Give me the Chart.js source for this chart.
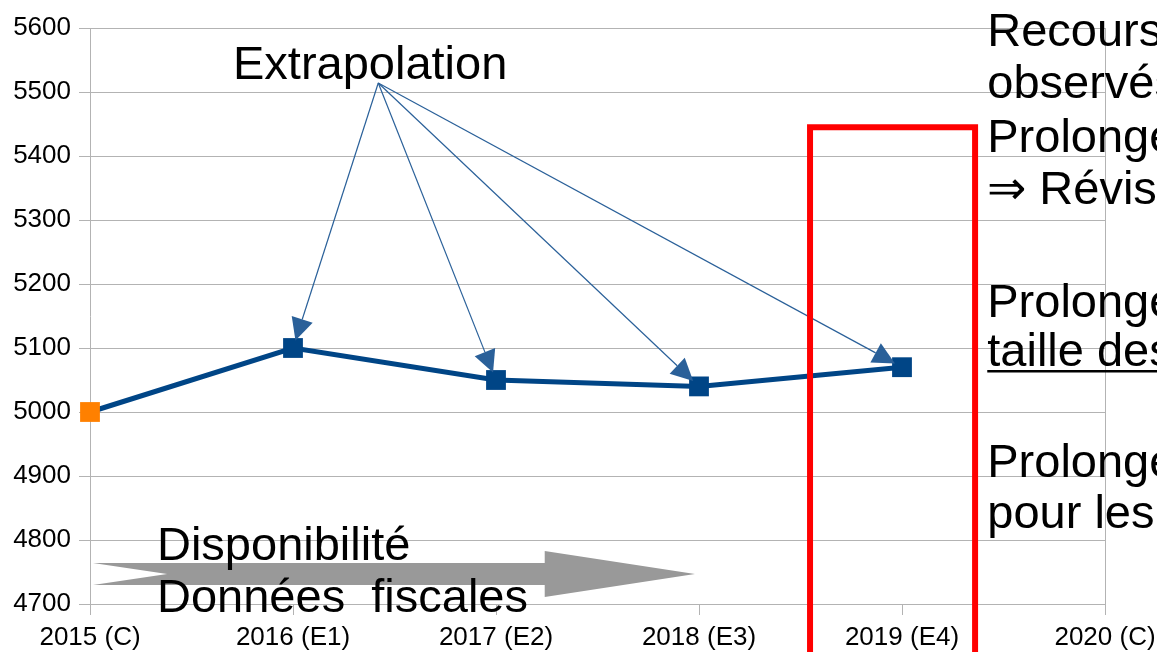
<!DOCTYPE html>
<html lang="fr">
<head>
  <meta charset="UTF-8">
  <title>Extrapolation</title>
  <script src="https://cdn.jsdelivr.net/npm/chart.js"></script>
  <style>
    body { margin: 0; background: #fff; }
    #wrap { width: 1157px; height: 652px; position: relative; }
  </style>
</head>
<body>
  <div id="wrap"><canvas id="chart"></canvas></div>

  <script>
    // Data
    const years = ['2015 (C)', '2016 (E1)', '2017 (E2)', '2018 (E3)', '2019 (E4)', '2020 (C)'];
    const values = [5000, 5100, 5050, 5040, 5070, null];
    const pointColors = ['#ff8000', '#004586', '#004586', '#004586', '#004586', '#004586'];
    const yTicks = { min: 4700, max: 5600, step: 100 };

    // Annotation text
    const extrapLabel = 'Extrapolation';
    const extrapTargets = [1, 2, 3, 4];
    const fiscalLines = ['Disponibilité', 'Données  fiscales'];
    const sideLines = [
      { text: 'Recours aux taux', under: false },
      { text: 'observés', under: false },
      { text: 'Prolongement', under: false },
      { text: '⇒ Révisions', under: false },
      { text: 'Prolongement de la', under: false },
      { text: 'taille des ménages', under: true },
      { text: 'Prolongement', under: false },
      { text: 'pour les autres', under: false }
    ];

    const FONT = "'Liberation Sans', Arial, sans-serif";
    const GRID = '#b3b3b3';

    // Draws the annotations (arrows, box, texts) anchored on the chart scales
    const annotations = {
      id: 'annotations',
      afterDatasetsDraw(chart) {
        const ctx = chart.ctx;
        const x = chart.scales.x, y = chart.scales.y;
        const px = v => x.getPixelForValue(v);
        const py = v => y.getPixelForValue(v);
        ctx.save();

        // gray arrow "Disponibilité données fiscales"
        const ax0 = px(0.015), ax1 = px(2.98), axHead = px(2.24), axNotch = px(0.38);
        const ayc = py(4747);
        ctx.fillStyle = '#999999';
        ctx.beginPath();
        ctx.moveTo(ax0, ayc - 11);
        ctx.lineTo(axHead, ayc - 11);
        ctx.lineTo(axHead, ayc - 23);
        ctx.lineTo(ax1, ayc);
        ctx.lineTo(axHead, ayc + 23);
        ctx.lineTo(axHead, ayc + 11);
        ctx.lineTo(ax0, ayc + 11);
        ctx.lineTo(axNotch, ayc);
        ctx.closePath();
        ctx.fill();

        ctx.fillStyle = '#000';
        ctx.font = '47px ' + FONT;
        ctx.textAlign = 'left';
        ctx.textBaseline = 'alphabetic';
        ctx.fillText(fiscalLines[0], px(0.33), py(4769));
        ctx.fillText(fiscalLines[1], px(0.33), py(4769) + 52);

        // extrapolation arrows
        const ox = px(1.42), oy = py(5514);
        ctx.strokeStyle = '#2a6099';
        ctx.fillStyle = '#2a6099';
        ctx.lineWidth = 1.2;
        extrapTargets.forEach(i => {
          const tx = px(i), ty = py(values[i]);
          const dx = tx - ox, dy = ty - oy;
          const len = Math.hypot(dx, dy);
          const ux = dx / len, uy = dy / len;
          const tipX = tx - ux * 8, tipY = ty - uy * 8;
          const bx = tipX - ux * 22, by = tipY - uy * 22;
          ctx.beginPath();
          ctx.moveTo(ox, oy);
          ctx.lineTo(bx, by);
          ctx.stroke();
          ctx.beginPath();
          ctx.moveTo(tipX, tipY);
          ctx.lineTo(bx - uy * 11, by + ux * 11);
          ctx.lineTo(bx + uy * 11, by - ux * 11);
          ctx.closePath();
          ctx.fill();
        });
        ctx.fillStyle = '#000';
        ctx.textAlign = 'center';
        ctx.fillText(extrapLabel, px(1.38), py(5520));

        // red box around 2019
        ctx.strokeStyle = '#ff0000';
        ctx.lineWidth = 6;
        ctx.beginPath();
        ctx.moveTo(px(3.547), chart.height + 10);
        ctx.lineTo(px(3.547), py(5445));
        ctx.lineTo(px(4.36), py(5445));
        ctx.lineTo(px(4.36), chart.height + 10);
        ctx.stroke();

        // side text, cut by the page edge
        ctx.fillStyle = '#000';
        ctx.textAlign = 'left';
        const sx = px(4.42);
        const baselines = [46, 98, 152, 204, 317, 366, 477, 528];
        sideLines.forEach((l, k) => {
          ctx.fillText(l.text, sx, baselines[k]);
          if (l.under) {
            const w = ctx.measureText(l.text).width;
            ctx.fillRect(sx, baselines[k] + 4, w, 2.5);
          }
        });
        ctx.restore();
      }
    };

    new Chart(document.getElementById('chart'), {
      type: 'line',
      data: {
        labels: years,
        datasets: [{
          data: values,
          borderColor: '#004586',
          borderWidth: 5,
          tension: 0,
          pointStyle: 'rect',
          pointRadius: 14,
          pointHoverRadius: 14,
          pointBorderWidth: 0,
          pointBackgroundColor: pointColors,
          pointBorderColor: pointColors
        }]
      },
      options: {
        responsive: true,
        maintainAspectRatio: false,
        animation: false,
        layout: { padding: { top: 28, right: 52, left: 0, bottom: 0 } },
        plugins: {
          legend: { display: false },
          tooltip: { enabled: false }
        },
        scales: {
          x: {
            offset: false,
            afterFit: s => { s.height = 48; s.paddingRight = 0; s.paddingLeft = 0; },
            grid: {
              color: c => (c.index === 5 ? GRID : 'transparent'),
              tickColor: GRID,
              tickLength: 11,
              lineWidth: 1
            },
            border: { color: GRID },
            ticks: {
              color: '#000',
              font: { family: FONT, size: 26 },
              padding: 7,
              maxRotation: 0,
              autoSkip: false
            }
          },
          y: {
            min: yTicks.min,
            max: yTicks.max,
            afterFit: s => { s.width = 90; },
            grid: { color: GRID, tickColor: GRID, tickLength: 11, lineWidth: 1 },
            border: { color: GRID },
            ticks: {
              stepSize: yTicks.step,
              color: '#000',
              font: { family: FONT, size: 26 },
              padding: 8,
              callback: v => String(v)
            }
          }
        }
      },
      plugins: [annotations]
    });
  </script>
</body>
</html>
